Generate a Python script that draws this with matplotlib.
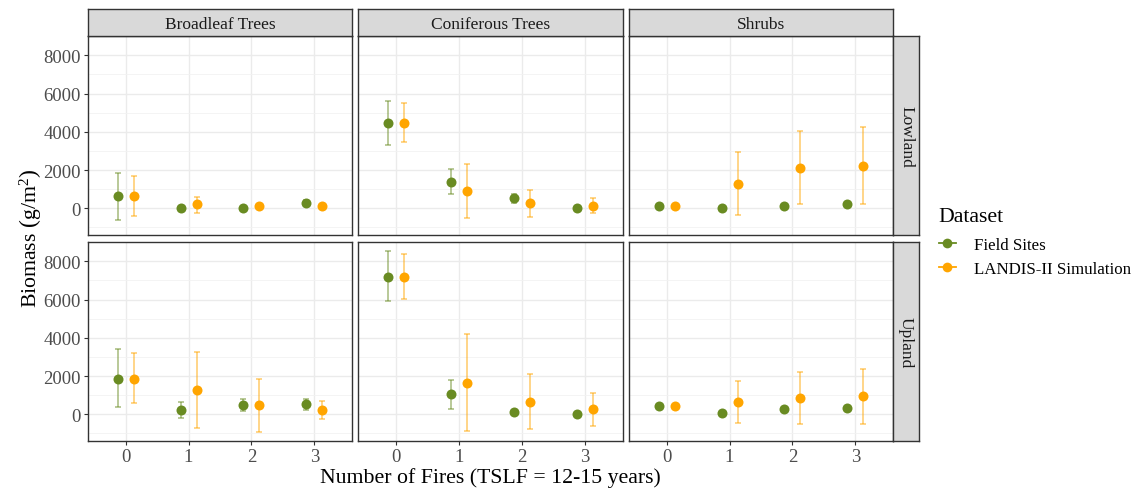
import numpy as np
import matplotlib
matplotlib.use('Agg')
import matplotlib.pyplot as plt
from matplotlib.lines import Line2D

plt.rcParams['font.family'] = ['Liberation Serif', 'DejaVu Serif']
plt.rcParams['mathtext.fontset'] = 'custom'
plt.rcParams['mathtext.rm'] = 'Liberation Serif'
plt.rcParams['mathtext.it'] = 'Liberation Serif:italic'

fires = [0, 1, 2, 3]
groups = ['Broadleaf Trees', 'Coniferous Trees', 'Shrubs']
sites = ['Lowland', 'Upland']
datasets = ['Field Sites', 'LANDIS-II Simulation']
colors = ['#698B22', '#FFA500']

# mean biomass, [site][group][dataset] -> values per number of fires
mean = {
    'Lowland': {
        'Broadleaf Trees': [[630, 20, 10, 285], [630, 210, 105, 105]],
        'Coniferous Trees': [[4480, 1385, 545, 10], [4480, 890, 285, 140]],
        'Shrubs': [[105, 10, 105, 210], [105, 1295, 2120, 2200]],
    },
    'Upland': {
        'Broadleaf Trees': [[1850, 210, 485, 540], [1850, 1255, 485, 240]],
        'Coniferous Trees': [[7195, 1075, 135, 30], [7195, 1650, 660, 260]],
        'Shrubs': [[435, 85, 295, 330], [435, 660, 850, 955]],
    },
}
# lower and upper ends of the error bars
lower = {
    'Lowland': {
        'Broadleaf Trees': [[-590, -20, -20, 150], [-420, -240, 60, 60]],
        'Coniferous Trees': [[3300, 770, 285, -20], [3460, -500, -450, -240]],
        'Shrubs': [[60, -20, 60, 160], [60, -330, 245, 245]],
    },
    'Upland': {
        'Broadleaf Trees': [[380, -210, 175, 225], [575, -715, -910, -260]],
        'Coniferous Trees': [[5910, 295, 90, -10], [6045, -870, -785, -610]],
        'Shrubs': [[390, 40, 250, 290], [390, -440, -490, -490]],
    },
}
upper = {
    'Lowland': {
        'Broadleaf Trees': [[1855, 60, 40, 420], [1680, 600, 150, 150]],
        'Coniferous Trees': [[5630, 2030, 770, 40], [5490, 2305, 980, 545]],
        'Shrubs': [[150, 40, 150, 260], [150, 2935, 4035, 4230]],
    },
    'Upland': {
        'Broadleaf Trees': [[3415, 660, 805, 805], [3190, 3260, 1865, 710]],
        'Coniferous Trees': [[8555, 1810, 180, 70], [8400, 4185, 2090, 1130]],
        'Shrubs': [[480, 130, 340, 370], [480, 1740, 2210, 2355]],
    },
}

W, H = 1135, 489
fig = plt.figure(figsize=(W / 100, H / 100), dpi=100)

col_x = [(88, 352), (358, 623), (629, 893)]
row_y = [(37, 236), (243, 442)]
strip_top = (10, 37)
strip_right = (893, 919)
border = '#333333'
dodge = 0.127


def px_rect(x0, x1, y0, y1):
    return [x0 / W, 1 - y1 / H, (x1 - x0) / W, (y1 - y0) / H]


def strip_axes(rect):
    sax = fig.add_axes(rect)
    sax.set_facecolor('#D9D9D9')
    sax.set_xticks([])
    sax.set_yticks([])
    for s in sax.spines.values():
        s.set_color(border)
        s.set_linewidth(1.0)
    return sax


for r, site in enumerate(sites):
    for c, grp in enumerate(groups):
        x0, x1 = col_x[c]
        y0, y1 = row_y[r]
        ax = fig.add_axes(px_rect(x0, x1, y0, y1))
        ax.set_xlim(-0.6, 3.6)
        ax.set_ylim(-1394, 9007)
        ax.set_yticks([0, 2000, 4000, 6000, 8000])
        ax.set_yticks([-1000, 1000, 3000, 5000, 7000, 9000], minor=True)
        ax.set_xticks(fires)
        ax.grid(True, which='major', color='#EBEBEB', lw=1.0, zorder=0)
        ax.grid(True, which='minor', axis='y', color='#F2F2F2', lw=0.6, zorder=0)
        ax.set_axisbelow(True)
        for s in ax.spines.values():
            s.set_color(border)
            s.set_linewidth(1.0)
        ax.tick_params(which='minor', length=0)
        ax.tick_params(which='major', length=3, color=border, width=0.8,
                       labelsize=13.5, labelcolor='#4D4D4D', pad=2)
        if c > 0:
            ax.tick_params(axis='y', labelleft=False, length=0)
        if r == 0:
            ax.tick_params(axis='x', labelbottom=False, length=0)

        for d in range(2):
            xs = np.array(fires) + (2 * d - 1) * dodge
            m = np.array(mean[site][grp][d])
            lo = np.array(lower[site][grp][d])
            hi = np.array(upper[site][grp][d])
            ax.errorbar(xs, m, yerr=[m - lo, hi - m], fmt='none',
                        ecolor=colors[d], alpha=0.5, elinewidth=1.3,
                        capsize=2.5, capthick=1.3, zorder=2)
            ax.plot(xs, m, 'o', color=colors[d], ms=7.2, mec='none', zorder=3)

        # facet strips
        if r == 0:
            sax = strip_axes(px_rect(x0, x1, strip_top[0], strip_top[1]))
            sax.text(0.5, 0.45, grp, ha='center', va='center', fontsize=12.5,
                     color='#1A1A1A', transform=sax.transAxes)
        if c == 2:
            sax = strip_axes(px_rect(strip_right[0], strip_right[1], y0, y1))
            sax.text(0.5, 0.5, site, ha='center', va='center', fontsize=12.5,
                     color='#1A1A1A', rotation=-90, transform=sax.transAxes)

fig.text(490 / W, 1 - 478 / H, 'Number of Fires (TSLF = 12-15 years)',
         ha='center', va='center', fontsize=15.7)
fig.text(30 / W, 1 - 238 / H, r'Biomass $\left(\mathrm{g/m^2}\right)$',
         ha='center', va='center', fontsize=15.7, rotation=90)

handles = [Line2D([0], [0], color=col, marker='o', ms=7, lw=1.3, mec='none')
           for col in colors]
leg = fig.legend(handles, datasets, title='Dataset', loc='upper left',
                 bbox_to_anchor=(932 / W, 1 - 201 / H), frameon=False,
                 fontsize=12.2, title_fontsize=15.7, handlelength=1.0,
                 handletextpad=1.1, labelspacing=0.45, borderaxespad=0)
leg._legend_box.align = 'left'
leg._legend_box.sep = 8

fig.savefig('out.png', dpi=100)
